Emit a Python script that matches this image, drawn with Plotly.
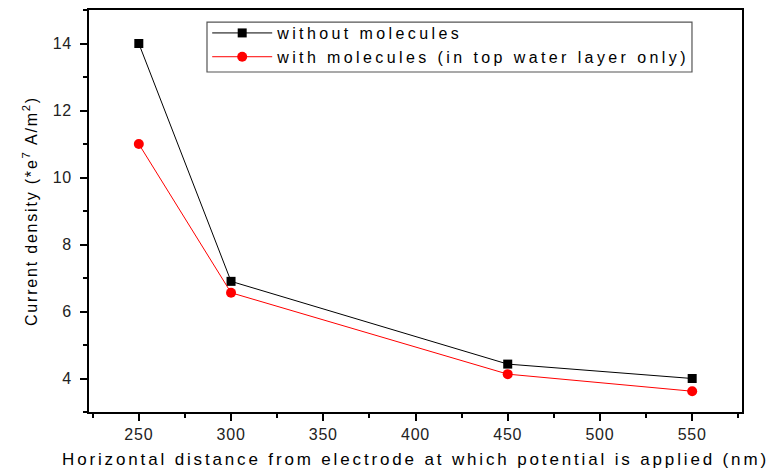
import plotly.graph_objects as go

distance = [250, 300, 450, 550]
without_molecules = [14.0, 6.9, 4.43, 4.0]
with_molecules = [11.0, 6.56, 4.13, 3.62]
x_ticks = [250, 300, 350, 400, 450, 500, 550]
y_ticks = [4, 6, 8, 10, 12, 14]

FONT = "Liberation Sans, Arial, sans-serif"

fig = go.Figure()
fig.add_trace(go.Scatter(
    x=distance, y=without_molecules, mode="lines+markers",
    name="without molecules",
    line=dict(color="black", width=1),
    marker=dict(symbol="square", size=9, color="black"),
))
fig.add_trace(go.Scatter(
    x=distance, y=with_molecules, mode="lines+markers",
    name="with molecules (in top water layer only)",
    line=dict(color="red", width=1),
    marker=dict(symbol="circle", size=10, color="red"),
))

axis_common = dict(
    showgrid=False, zeroline=False, showline=True, linecolor="black", linewidth=1.5,
    mirror=True, ticks="outside", ticklen=7, tickwidth=1.5, tickcolor="black",
    tickfont=dict(family=FONT, size=16, color="#222"), automargin=False,
)

fig.update_layout(
    width=766, height=475,
    margin=dict(l=89, r=24, t=10, b=63),
    paper_bgcolor="white", plot_bgcolor="white",
    font=dict(family=FONT, color="black"),
    showlegend=True,
    legend=dict(
        x=0.181, y=0.985, xanchor="left", yanchor="top",
        borderwidth=0, bgcolor="rgba(0,0,0,0)",
        font=dict(family=FONT, size=16, color="black"),
        tracegroupgap=0, itemwidth=60,
    ),
    shapes=[dict(type="rect", xref="paper", yref="paper",
                 x0=0.1807, x1=0.9234, y0=0.8458, y1=0.970,
                 line=dict(color="#555", width=1.2), fillcolor="white", layer="below")],
    xaxis=dict(
        **axis_common,
        range=[223, 577],
        tickvals=x_ticks,
        minor=dict(ticks="outside", ticklen=4, tickwidth=1.5, tickcolor="black", dtick=25, tick0=225),
        title=dict(text="Horizontal distance from electrode at which potential is applied (nm)",
                   font=dict(family=FONT, size=17, color="black"), standoff=11),
    ),
    yaxis=dict(
        **axis_common,
        range=[3, 15],
        tickvals=y_ticks,
        ticklabelstandoff=5,
        minor=dict(ticks="outside", ticklen=4, tickwidth=1.5, tickcolor="black", dtick=1, tick0=3),
        title=dict(text="Current density (*e<sup>7</sup> A/m<sup>2</sup>)",
                   font=dict(family=FONT, size=16, color="black"), standoff=13),
    ),
)

post = (
    "var s=document.createElement('style');"
    "s.textContent='.legendtext{letter-spacing:3.4px}"
    " .legend .scrollbox{clip-path:none !important}"
    " .g-xtitle text{letter-spacing:2.85px}"
    " .g-ytitle text{letter-spacing:1.8px}"
    " .xtick text,.ytick text{letter-spacing:0.8px}';"
    "document.head.appendChild(s);"
)

fig.write_html("out.html", post_script=post)
